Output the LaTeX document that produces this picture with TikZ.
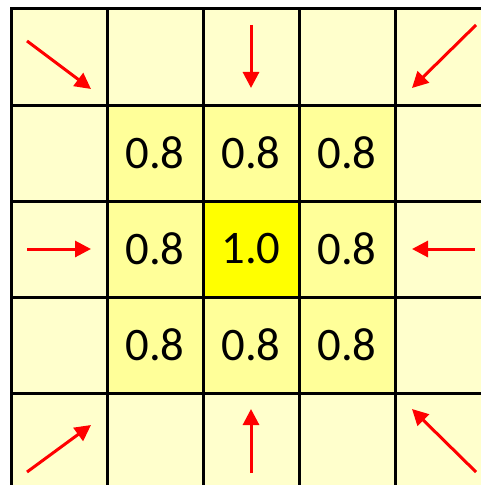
\documentclass[tikz,border=0pt]{standalone}
\usepackage{fontspec}
\setmainfont{Carlito}
\usepackage{tikz}
\usepackage{xcolor}
\usetikzlibrary{positioning, arrows.meta}
\definecolor{cellpale}{RGB}{255, 255, 204}
\definecolor{cellmid}{RGB}{255, 255, 153}
\definecolor{cellpeak}{RGB}{255, 255, 0}
\definecolor{flowred}{RGB}{255, 0, 0}

\begin{document}
\begin{tikzpicture}[x=0.75pt, y=-0.75pt,
    cell/.style={draw=black, line width=2.25pt, minimum size=72pt, inner sep=0pt, fill=cellpale, font=\fontsize{35}{40}\selectfont},
    flow/.style={draw=flowred, line width=2.25pt, -{Triangle[length=12pt, width=12pt]}}]
    \useasboundingbox (0,0) rectangle (481,485);
    \clip (0,0) rectangle (481,485);

    % outer ring of pale cells
    \foreach \i/\x in {1/59, 2/155, 3/251, 4/347, 5/443}
      \foreach \j/\y in {1/57, 2/153, 3/249, 4/345, 5/441}
        \node[cell] (c\i\j) at (\x,\y) {};

    % inner cells with values
    \node[cell, fill=cellmid] (v22) at (155,153) {0.8};
    \node[cell, fill=cellmid] (v32) at (251,153) {0.8};
    \node[cell, fill=cellmid] (v42) at (347,153) {0.8};
    \node[cell, fill=cellmid] (v23) at (155,249) {0.8};
    \node[cell, fill=cellpeak] (v33) at (251,249) {1.0};
    \node[cell, fill=cellmid] (v43) at (347,249) {0.8};
    \node[cell, fill=cellmid] (v24) at (155,345) {0.8};
    \node[cell, fill=cellmid] (v34) at (251,345) {0.8};
    \node[cell, fill=cellmid] (v44) at (347,345) {0.8};

    % arrows pointing inwards
    \coordinate (a1s) at (27,41);   \coordinate (a1e) at (91,89);
    \coordinate (a2s) at (251,25);  \coordinate (a2e) at (251,88);
    \coordinate (a3s) at (476,25);  \coordinate (a3e) at (412,88);
    \coordinate (a4s) at (27,249);  \coordinate (a4e) at (91,249);
    \coordinate (a5s) at (475,249); \coordinate (a5e) at (412,249);
    \coordinate (a6s) at (27,472);  \coordinate (a6e) at (91,425);
    \coordinate (a7s) at (251,473); \coordinate (a7e) at (251,409);
    \coordinate (a8s) at (476,472); \coordinate (a8e) at (412,409);

    \draw[flow] (a1s) -- (a1e);
    \draw[flow] (a2s) -- (a2e);
    \draw[flow] (a3s) -- (a3e);
    \draw[flow] (a4s) -- (a4e);
    \draw[flow] (a5s) -- (a5e);
    \draw[flow] (a6s) -- (a6e);
    \draw[flow] (a7s) -- (a7e);
    \draw[flow] (a8s) -- (a8e);
\end{tikzpicture}
\end{document}
